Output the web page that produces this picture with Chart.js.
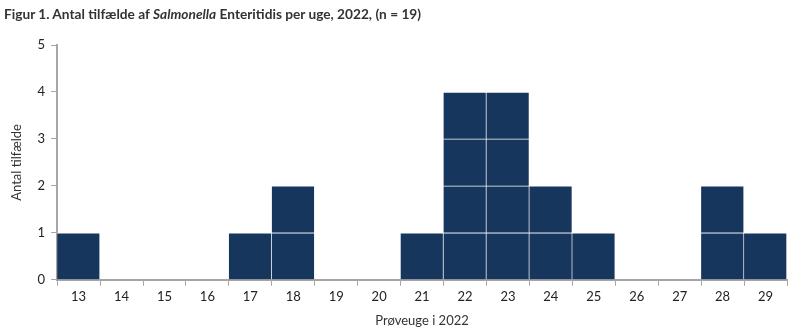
<!DOCTYPE html>
<html>
<head>
<meta charset="utf-8">
<script src="https://cdn.jsdelivr.net/npm/chart.js@4"></script>
<style>
  body { margin: 0; background: #fff; }
  #wrap { position: relative; width: 800px; height: 334px; }
  #title { position: absolute; left: 4px; top: 5px; font: bold 13.7px Lato, sans-serif; color: #333; white-space: nowrap; }
  canvas { position: absolute; left: 0; top: 0; }
</style>
</head>
<body>
<div id="wrap">
  <canvas id="chart" width="800" height="334"></canvas>
  <div id="title">Figur 1. Antal tilfælde af <i>Salmonella</i> Enteritidis per uge, 2022, (n = 19)</div>
</div>
<script>
// uger og antal tilfælde
const weeks = ['13','14','15','16','17','18','19','20','21','22','23','24','25','26','27','28','29']
const cases = [1, 0, 0, 0, 1, 2, 0, 0, 1, 4, 4, 2, 1, 0, 0, 2, 1]
const yTicks = [0, 1, 2, 3, 4, 5]

const barColor = '#17365D'
const axisColor = '#A6A6A6'
const fontFam = 'Lato, sans-serif'

// one dataset per layer so each case is its own box
const maxCases = Math.max(...cases)
const datasets = []
for (let k = 1; k <= maxCases; k++) {
    datasets.push({
        data: cases.map(c => c >= k ? 1 : null),
        backgroundColor: barColor,
        borderColor: '#fff',
        borderWidth: { top: 1, right: 1, left: 0, bottom: 0 },
        borderSkipped: false,
        barPercentage: 1,
        categoryPercentage: 1
    })
}

new Chart(document.getElementById('chart'), {
    type: 'bar',
    data: { labels: weeks, datasets: datasets },
    options: {
        responsive: false,
        animation: false,
        layout: { padding: { top: 45, right: 13, bottom: 1, left: 5 } },
        plugins: { legend: { display: false }, tooltip: { enabled: false } },
        scales: {
            x: {
                stacked: true,
                grid: { display: true, drawOnChartArea: false, color: axisColor, tickLength: 6, offset: true },
                border: { color: axisColor, width: 2 },
                ticks: { color: '#222', font: { family: fontFam, size: 13 }, padding: 3 },
                title: { display: true, text: 'Prøveuge i 2022', color: '#333', font: { family: fontFam, size: 13 }, padding: { top: 6 } }
            },
            y: {
                stacked: true,
                min: 0, max: 5,
                afterBuildTicks: axis => { axis.ticks = yTicks.map(v => ({ value: v })) },
                grid: { display: true, drawOnChartArea: false, color: axisColor, tickLength: 6 },
                border: { color: axisColor, width: 2 },
                ticks: { color: '#222', font: { family: fontFam, size: 13 }, padding: 6 },
                title: { display: true, text: 'Antal tilfælde', color: '#333', font: { family: fontFam, size: 13 }, padding: { bottom: 7 } }
            }
        }
    }
})
</script>
</body>
</html>
